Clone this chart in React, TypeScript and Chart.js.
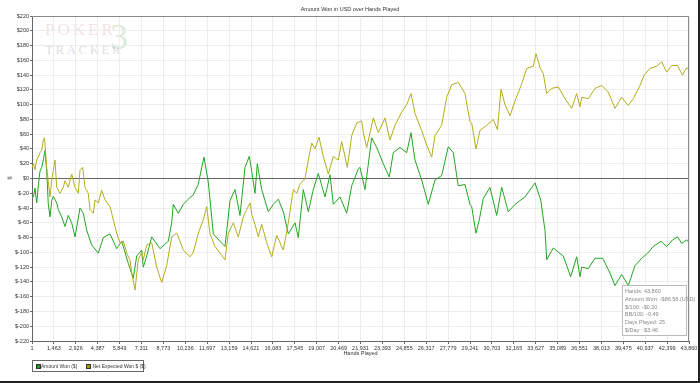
import React, { useEffect, useRef } from 'react';
import { Chart, registerables } from 'chart.js';

Chart.register(...registerables);

const chartTitle = 'Amount Won in USD over Hands Played';
const xAxisTitle = 'Hands Played';
const yAxisTitle = '$';
const xTickValues = [1, 1463, 2926, 4387, 5849, 7311, 8773, 10236, 11697, 13159, 14621, 16083, 17545, 19007, 20469, 21931, 23393, 24855, 26317, 27779, 29241, 30703, 32165, 33627, 35089, 36551, 38013, 39475, 40937, 42399, 43860];
const yMin = -220;
const yMax = 220;
const yStep = 20;

const amountWonLabel = 'Amount Won ($)';
const amountWonHands = [1, 101, 201, 315, 422, 535, 649, 755, 869, 982, 1089, 1203, 1316, 1423, 1650, 1757, 1984, 2204, 2424, 2651, 2872, 3205, 3425, 3652, 3986, 4427, 4760, 5208, 5655, 5989, 6430, 6763, 6990, 7324, 7431, 7658, 7992, 8546, 9100, 9327, 9434, 9767, 10101, 10435, 10769, 11102, 11329, 11483, 11770, 12104, 12551, 12885, 13219, 13553, 13886, 14220, 14507, 14667, 14888, 15041, 15335, 15776, 16109, 16443, 16777, 17111, 17558, 17778, 18112, 18446, 18780, 19113, 19560, 19894, 20115, 20562, 21009, 21343, 21784, 21897, 22231, 22678, 23012, 23452, 23853, 24120, 24567, 25014, 25302, 25568, 26016, 26456, 26903, 27350, 27791, 28124, 28458, 28905, 29239, 29353, 29640, 29860, 30127, 30575, 31022, 31356, 31796, 32243, 32911, 33579, 33959, 34246, 34360, 34800, 35468, 35962, 36362, 36583, 36696, 37137, 37584, 38098, 38585, 38919, 39366, 39807, 40254, 40701, 41101, 41475, 41989, 42370, 42771, 43104, 43371, 43705, 43860];
const amountWonValues = [-22, -25, -13, -33, -10, 10, 15, 25, 38, 10, -35, -52, -30, -24, -33, -42, -52, -65, -50, -60, -79, -40, -47, -70, -90, -101, -80, -75, -95, -85, -115, -135, -105, -97, -120, -105, -79, -95, -85, -60, -35, -47, -35, -28, -22, -8, 15, 29, -5, -75, -85, -92, -30, -15, -50, 15, 30, 10, -20, 20, -15, -45, -35, -28, -45, -75, -60, -80, -15, -45, -15, 7, -25, 5, -35, -25, -47, -10, 13, 15, -15, 55, 42, 20, 2, 35, 42, 35, 62, 25, -2, -35, -2, 4, 43, 35, -10, -8, -35, -38, -74, -56, -27, -12, -50, -12, -45, -35, -25, -6, -29, -70, -110, -94, -105, -133, -106, -133, -120, -122, -108, -108, -128, -145, -130, -145, -118, -108, -101, -92, -85, -92, -83, -79, -88, -83, -86.58];

const netExpectedLabel = 'Net Expected Won $ ($)';
const netExpectedHands = [1, 101, 201, 315, 422, 535, 649, 755, 835, 982, 1089, 1203, 1316, 1423, 1536, 1650, 1870, 2090, 2204, 2424, 2651, 2872, 3092, 3205, 3386, 3540, 3759, 3873, 4093, 4207, 4427, 4654, 4874, 5208, 5321, 5541, 5655, 5876, 6096, 6323, 6543, 6657, 6877, 7097, 7324, 7431, 7658, 7992, 8325, 8659, 8993, 9327, 9661, 9881, 10101, 10548, 10769, 11102, 11436, 11663, 11884, 12217, 12551, 12885, 13105, 13439, 13773, 14107, 14334, 14554, 14688, 14888, 15108, 15335, 15669, 16003, 16336, 16777, 17111, 17445, 17672, 17892, 18226, 18446, 18673, 18893, 19160, 19447, 19781, 20115, 20449, 20676, 21050, 21343, 21677, 22011, 22118, 22344, 22785, 23119, 23566, 23900, 24234, 24681, 25014, 25302, 25568, 26016, 26349, 26683, 26903, 27350, 27684, 28018, 28459, 28905, 29239, 29353, 29640, 29907, 30354, 30795, 31075, 31309, 31576, 31910, 32244, 32691, 33025, 33466, 33647, 33914, 34134, 34361, 34694, 35135, 35582, 36029, 36363, 36583, 36697, 37137, 37584, 38031, 38472, 38919, 39366, 39807, 40141, 40588, 40875, 41256, 41703, 42037, 42370, 42704, 43091, 43425, 43705, 43860];
const netExpectedValues = [15, 20, 12, 25, 29, 35, 38, 52, 55, 15, -5, -25, -2, 11, 25, -12, -20, -12, -3, -12, 6, -12, -20, 11, 15, -12, -20, -42, -47, -29, -33, -16, -29, -38, -47, -65, -74, -87, -85, -101, -110, -128, -151, -110, -100, -110, -90, -87, -120, -141, -118, -79, -74, -85, -97, -106, -100, -74, -56, -38, -75, -92, -101, -110, -74, -60, -79, -52, -42, -33, -50, -62, -79, -62, -87, -106, -77, -97, -60, -15, -20, -8, 0, 25, 48, 40, 56, 30, 6, 30, 25, 50, 15, 58, 75, 78, 62, 42, 82, 62, 82, 52, 72, 90, 100, 115, 88, 65, 45, 29, 58, 72, 110, 127, 130, 115, 77, 75, 40, 65, 72, 80, 66, 121, 100, 85, 105, 128, 149, 152, 169, 150, 142, 115, 122, 124, 108, 95, 115, 97, 110, 108, 122, 126, 117, 95, 110, 99, 108, 126, 140, 149, 152, 158, 144, 153, 153, 140, 150, 147];

const statsLines = ['Hands: 43,860', 'Amount Won: -$86.58 (USD)', '$/100: -$0.20', 'BB/100: -0.49', 'Days Played: 25', '$/Day: -$3.46'];

const amountWonColor = '#21a621';
const netExpectedColor = '#b3ad1c';
const tickFont = { family: "'Liberation Sans', Arial, sans-serif", size: 5.5 };

function fmtThousands(v: number): string {
  return String(Math.round(v)).replace(/\B(?=(\d{3})+(?!\d))/g, ',');
}

export default function App() {
  const canvasRef = useRef<HTMLCanvasElement | null>(null);

  useEffect(() => {
    const canvas = canvasRef.current;
    if (!canvas) return;
    const framePlugin = {
      id: 'frame',
      afterDraw(chart: any) {
        const { left, right, top, bottom } = chart.chartArea;
        const c = chart.ctx;
        c.save();
        c.strokeStyle = '#8a8a8a';
        c.lineWidth = 1;
        c.beginPath();
        c.moveTo(left, Math.round(top) + 0.5);
        c.lineTo(Math.round(right) - 0.5, Math.round(top) + 0.5);
        c.lineTo(Math.round(right) - 0.5, bottom);
        c.stroke();
        c.restore();
      },
    };
    const chart = new Chart(canvas, {
      type: 'line',
      data: {
        datasets: [
          {
            label: amountWonLabel,
            data: amountWonHands.map((h, i) => ({ x: h, y: amountWonValues[i] })),
            borderColor: amountWonColor,
            backgroundColor: amountWonColor,
            borderWidth: 1,
            pointRadius: 0,
            tension: 0,
            order: 2,
          },
          {
            label: netExpectedLabel,
            data: netExpectedHands.map((h, i) => ({ x: h, y: netExpectedValues[i] })),
            borderColor: netExpectedColor,
            backgroundColor: netExpectedColor,
            borderWidth: 1,
            pointRadius: 0,
            tension: 0,
            order: 1,
          },
        ],
      },
      options: {
        animation: false,
        responsive: false,
        maintainAspectRatio: false,
        layout: { padding: { top: 16, right: 11, bottom: 0, left: 0 } },
        plugins: {
          legend: { display: false },
          tooltip: { enabled: false },
          title: { display: false },
        },
        scales: {
          x: {
            type: 'linear',
            min: 1,
            max: 43860,
            afterBuildTicks: (s: any) => {
              s.ticks = xTickValues.map((v) => ({ value: v }));
            },
            afterFit: (s: any) => {
              s.height = 42;
            },
            ticks: {
              autoSkip: false,
              maxRotation: 0,
              minRotation: 0,
              padding: 1,
              color: '#333',
              font: tickFont,
              callback: (v: any) => fmtThousands(Number(v)),
            },
            grid: { color: '#ededed', tickColor: '#666', tickLength: 3 },
            border: { color: '#666' },
          },
          y: {
            min: yMin,
            max: yMax,
            afterFit: (s: any) => {
              s.width = 32;
            },
            ticks: {
              stepSize: yStep,
              padding: 1,
              color: '#333',
              font: tickFont,
              callback: (v: any) => '$' + v,
            },
            grid: {
              color: (ctx: any) => (ctx.tick && ctx.tick.value === 0 ? '#666' : '#ededed'),
              tickColor: '#666',
              tickLength: 2,
            },
            border: { color: '#666' },
          },
        },
      },
      plugins: [framePlugin],
    } as any);
    return () => chart.destroy();
  }, []);

  const txt: React.CSSProperties = {
    position: 'absolute',
    fontFamily: "'Liberation Sans', Arial, sans-serif",
    fontSize: 5.5,
    color: '#333',
    whiteSpace: 'nowrap',
  };
  const legendTxt: React.CSSProperties = {
    position: 'absolute',
    top: 2,
    fontFamily: "'Liberation Sans', Arial, sans-serif",
    fontSize: 5,
    lineHeight: '7px',
    color: '#333',
    whiteSpace: 'nowrap',
  };
  const legendSwatch: React.CSSProperties = {
    position: 'absolute',
    top: 3,
    width: 3,
    height: 3,
    border: '0.5px solid #333',
  };

  return (
    <div style={{ position: 'absolute', left: 0, top: 0, width: 700, height: 383, background: '#fff', overflow: 'hidden' }}>
      <div style={{ position: 'absolute', left: 45, top: 20, fontFamily: "'Liberation Serif', serif", fontSize: 17, letterSpacing: 3, color: 'rgba(215,140,140,0.28)' }}>POKER</div>
      <div style={{ position: 'absolute', left: 45, top: 42, fontFamily: "'Liberation Serif', serif", fontSize: 13, letterSpacing: 2.5, color: 'rgba(140,140,140,0.3)' }}>TRACKER</div>
      <div style={{ position: 'absolute', left: 110, top: 16, fontFamily: "'Liberation Serif', serif", fontSize: 36, color: 'rgba(120,175,120,0.28)' }}>3</div>
      <canvas ref={canvasRef} width={700} height={383} style={{ position: 'absolute', left: 0, top: 0, width: 700, height: 383 }} />
      <div style={{ ...txt, left: 0, width: 700, top: 6, textAlign: 'center' }}>{chartTitle}</div>
      <div style={{ ...txt, left: 8, top: 175, transform: 'rotate(-90deg)' }}>{yAxisTitle}</div>
      <div style={{ ...txt, left: 32, width: 657, top: 350, textAlign: 'center' }}>{xAxisTitle}</div>
      <div style={{ position: 'absolute', left: 32, top: 360, width: 110, height: 10, border: '1px solid #666' }}>
        <span style={{ ...legendSwatch, left: 3, background: '#1a9a1a' }} />
        <span style={{ ...legendTxt, left: 8 }}>{amountWonLabel}</span>
        <span style={{ ...legendSwatch, left: 53, background: '#9e9a10' }} />
        <span style={{ ...legendTxt, left: 59.5 }}>{netExpectedLabel}</span>
      </div>
      <div style={{ position: 'absolute', left: 622, top: 285, width: 65, height: 51, border: '1px solid #bbb', background: '#fff', fontFamily: "'Liberation Sans', Arial, sans-serif", fontSize: 5.5, color: '#888', paddingLeft: 2, paddingTop: 2, boxSizing: 'border-box', lineHeight: '7.8px', whiteSpace: 'nowrap' }}>
        {statsLines.map((s, i) => (
          <div key={i}>{s}</div>
        ))}
      </div>
      <div style={{ position: 'absolute', left: 0, top: 381, width: 700, height: 2, background: '#222' }} />
      <div style={{ position: 'absolute', left: 698, top: 0, width: 2, height: 383, background: '#222' }} />
    </div>
  );
}
